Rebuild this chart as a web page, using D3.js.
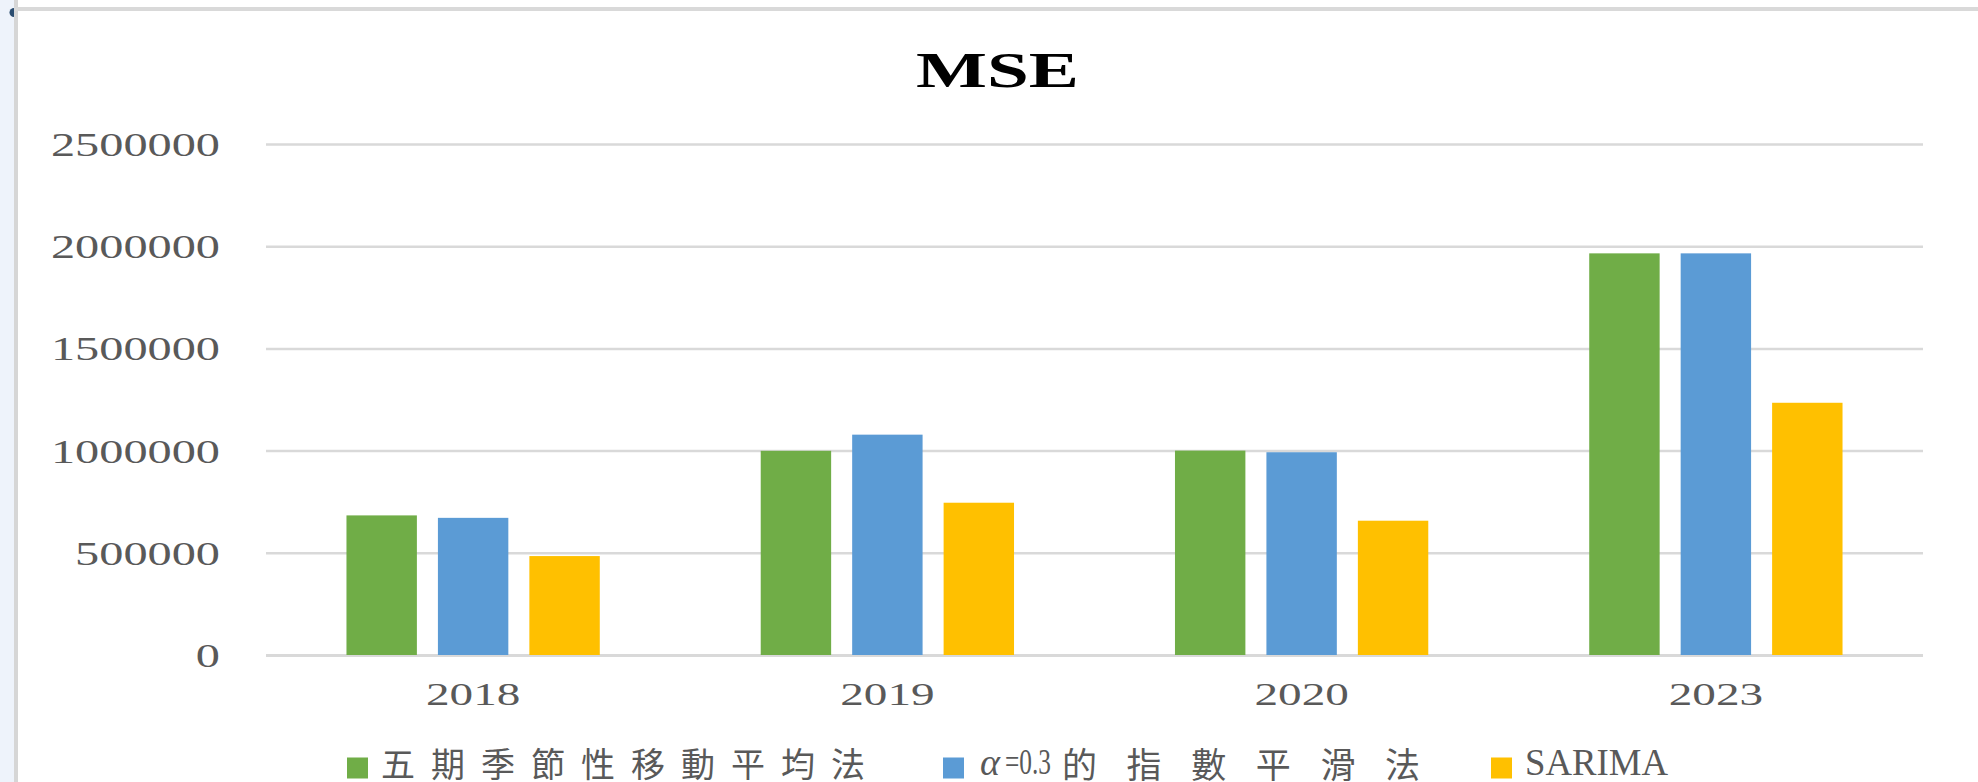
<!DOCTYPE html>
<html>
<head>
<meta charset="utf-8">
<script src="https://cdn.jsdelivr.net/npm/d3@7"></script>
<style>
  body { margin: 0; background: #fff; }
  svg { display: block; }
</style>
</head>
<body>
<svg id="chart" width="1978" height="782"></svg>
<script>
// data
var categories = ["2018", "2019", "2020", "2023"];
var seriesNames = ["五期季節性移動平均法", "α=0.3的指數平滑法", "SARIMA"];
var movingAvg = [683000, 999000, 1000000, 1965000];
var expSmooth = [671000, 1078000, 992000, 1965000];
var sarima = [484000, 745000, 657000, 1234000];
var yTicks = [0, 500000, 1000000, 1500000, 2000000, 2500000];
var colors = ["#70AD47", "#5B9BD5", "#FFC000"];

var allSeries = [movingAvg, expSmooth, sarima];

var W = 1978, H = 782;
var plotL = 266, plotR = 1923, plotT = 144, plotB = 655;
var serif = "'Liberation Serif', 'Times New Roman', serif";
var cjk = "'Noto Sans CJK TC', 'Noto Sans CJK SC', sans-serif";

var svg = d3.select("#chart");

// frame bits around the chart area
svg.append("rect").attr("x", 0).attr("y", 0).attr("width", 14).attr("height", H).attr("fill", "#eef3fb");
svg.append("rect").attr("x", 14).attr("y", 0).attr("width", 4).attr("height", H).attr("fill", "#d6d6d6");
svg.append("rect").attr("x", 14).attr("y", 7).attr("width", W - 14).attr("height", 4).attr("fill", "#d9d9d9");
svg.append("path").attr("d", "M14,8 A4.5,4.5 0 0 0 14,17 Z").attr("fill", "#2b4d70");

var y = d3.scaleLinear().domain([0, 2500000]).range([plotB, plotT]);

var x0 = d3.scaleBand().domain(categories).range([plotL, plotR]);
var x1 = d3.scaleBand().domain(d3.range(seriesNames.length))
  .range([0, x0.bandwidth()])
  .paddingInner(0.23)
  .paddingOuter(0.88);

var g = svg.append("g");

// gridlines + y labels
var yAxis = g.append("g")
  .attr("transform", "translate(" + plotL + ",0)")
  .call(d3.axisLeft(y).tickValues(yTicks).tickSize(-(plotR - plotL)).tickPadding(46).tickFormat(d3.format("d")));

yAxis.select(".domain").remove();
yAxis.selectAll(".tick line")
  .attr("stroke", "#d9d9d9")
  .attr("stroke-width", function (d) { return d === 0 ? 3 : 2.5; });
yAxis.selectAll(".tick text")
  .attr("fill", "#595959")
  .attr("font-family", serif)
  .attr("font-size", 33)
  .attr("dy", "0.35em")
  .attr("textLength", function (d) { return String(d).length * 24.15; })
  .attr("lengthAdjust", "spacingAndGlyphs");

// bars
var groups = g.append("g").selectAll("g")
  .data(categories)
  .enter().append("g")
  .attr("transform", function (d) { return "translate(" + x0(d) + ",0)"; });

groups.selectAll("rect")
  .data(function (d, i) { return allSeries.map(function (s, k) { return { k: k, v: s[i] }; }); })
  .enter().append("rect")
  .attr("x", function (d) { return x1(d.k); })
  .attr("y", function (d) { return y(d.v); })
  .attr("width", x1.bandwidth())
  .attr("height", function (d) { return y(0) - y(d.v); })
  .attr("fill", function (d) { return colors[d.k]; });

// x labels
var xAxis = g.append("g")
  .attr("transform", "translate(0," + plotB + ")")
  .call(d3.axisBottom(x0).tickSize(0));
xAxis.select(".domain").remove();
xAxis.selectAll(".tick text")
  .attr("y", 39.5)
  .attr("dy", "0.35em")
  .attr("fill", "#595959")
  .attr("font-family", serif)
  .attr("font-size", 31)
  .attr("textLength", function (d) { return d.length * 23.6; })
  .attr("lengthAdjust", "spacingAndGlyphs");

// title
svg.append("text")
  .attr("x", 997.5)
  .attr("y", 86.7)
  .attr("text-anchor", "middle")
  .attr("font-family", serif)
  .attr("font-weight", "bold")
  .attr("font-size", 51)
  .attr("fill", "#000")
  .attr("textLength", 163)
  .attr("lengthAdjust", "spacingAndGlyphs")
  .text("MSE");

// legend: each entry is split into pieces (latin part / CJK part)
var legendY = 762, box = 21;
var legendLayout = [
  { boxX: 347, pieces: [
    { from: 0, to: 10, x: 381, len: 484, font: cjk, size: 34, adj: "spacing" }
  ] },
  { boxX: 943, pieces: [
    { from: 0, to: 1, x: 980, len: 20, font: serif, size: 37, italic: true, adj: "spacingAndGlyphs" },
    { from: 1, to: 5, x: 1005, len: 46, font: serif, size: 35, adj: "spacingAndGlyphs" },
    { from: 5, to: 11, x: 1062, len: 358, font: cjk, size: 35, adj: "spacing" }
  ] },
  { boxX: 1491, pieces: [
    { from: 0, to: 6, x: 1525, len: 143, font: serif, size: 37, adj: "spacingAndGlyphs" }
  ] }
];
var legend = svg.append("g");
seriesNames.forEach(function (name, i) {
  var L = legendLayout[i];
  legend.append("rect")
    .attr("x", L.boxX).attr("y", legendY + 6 - box / 2)
    .attr("width", box).attr("height", box)
    .attr("fill", colors[i]);
  L.pieces.forEach(function (p) {
    legend.append("text")
      .attr("x", p.x)
      .attr("y", legendY)
      .attr("dominant-baseline", "central")
      .attr("fill", "#595959")
      .attr("font-family", p.font)
      .attr("font-size", p.size)
      .attr("font-style", p.italic ? "italic" : null)
      .attr("textLength", p.len)
      .attr("lengthAdjust", p.adj)
      .text(name.slice(p.from, p.to));
  });
});
</script>
</body>
</html>
